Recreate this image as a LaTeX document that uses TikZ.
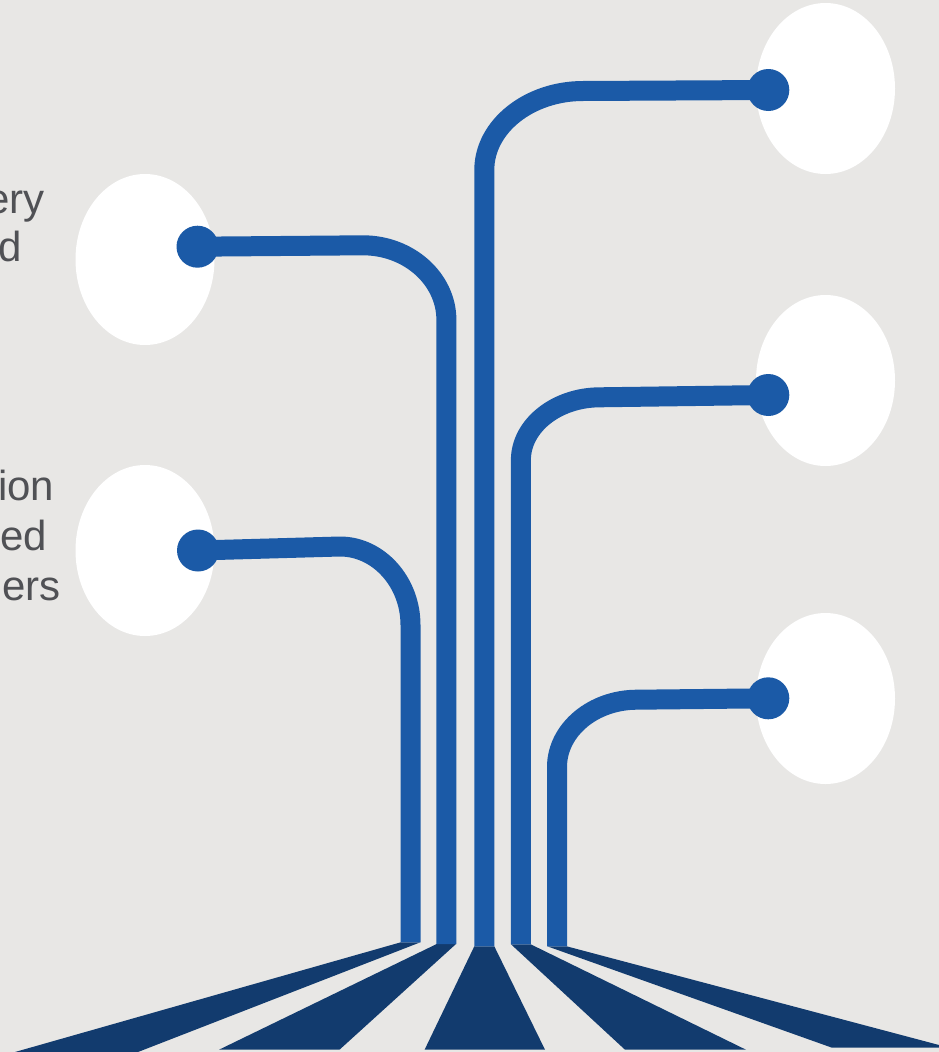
\documentclass[tikz,border=0pt]{standalone}
\usepackage{fontspec}
\setmainfont{Liberation Sans}
\usetikzlibrary{shapes.geometric}
\definecolor{bgc}{HTML}{E8E7E5}
\definecolor{lineblue}{HTML}{1B5AA7}
\definecolor{navy}{HTML}{123B6E}
\definecolor{txt}{HTML}{505155}
\pgfdeclarelayer{bg}\pgfdeclarelayer{fg}\pgfsetlayers{bg,main,fg}
\tikzset{
 bubble/.style={ellipse, fill=white, draw=none, minimum width=139pt, minimum height=171pt, inner sep=0pt},
 bluedot/.style={circle, fill=lineblue, draw=none, minimum size=42pt, inner sep=0pt},
 wire/.style={draw=lineblue, line width=20pt, line cap=butt, line join=round},
 ray/.style={fill=navy, draw=none},
 fragtext/.style={text=txt, font=\fontsize{42}{50}\selectfont, anchor=base east, inner sep=0pt}
}
\begin{document}
\begin{tikzpicture}[x=1pt,y=-1pt]
\useasboundingbox (0,0) rectangle (939,1052);
\begin{pgfonlayer}{bg}
\fill[bgc] (0,0) rectangle (939,1052);
\node[bubble] (e1) at (145,259.5) {};
\node[bubble] (e2) at (145,550.5) {};
\node[bubble] (e3) at (825.5,88.5) {};
\node[bubble] (e4) at (825.5,380.5) {};
\node[bubble] (e5) at (825.5,698.5) {};
\end{pgfonlayer}
\begin{pgfonlayer}{fg}
\node[bluedot] (d1) at (198,550.5) {};
\node[bluedot] (d2) at (197.5,246.7) {};
\node[bluedot] (d3) at (768.3,90) {};
\node[bluedot] (d4) at (768.3,395) {};
\node[bluedot] (d5) at (768.3,698.3) {};
\end{pgfonlayer}
% text fragments
\node[fragtext] (t1) at (45,213) {ery};
\node[fragtext] (t2) at (22.5,261.7) {d};
\node[fragtext] (t3) at (54.5,500) {ion};
\node[fragtext] (t4) at (47,550) {ed};
\node[fragtext] (t5) at (61,600) {lers};
% fan rays
\fill[ray] (400.7,942.3) -- (420.3,942.3) -- (138,1052) -- (15,1052) -- cycle;
\fill[ray] (436.7,944) -- (456,944) -- (339.5,1049.7) -- (219,1049.7) -- cycle;
\fill[ray] (474.3,946.3) -- (494.3,946.3) -- (545,1049.7) -- (424.6,1049.7) -- cycle;
\fill[ray] (511,944.3) -- (530.7,944.3) -- (746,1049.7) -- (625,1049.7) -- cycle;
\fill[ray] (547.3,946.3) -- (566.7,946.3) -- (939,1045) -- (939,1047.7) -- (832,1047.7) -- cycle;
% feet of the wires
\coordinate (f1) at (410.5,942.3);
\coordinate (f2) at (446.4,944);
\coordinate (f3) at (484.3,946.3);
\coordinate (f4) at (520.9,944.3);
\coordinate (f5) at (557,946.3);
% wires
\draw[wire] (d1.center) -- (340,546.5) .. controls (378.5,546.5) and (410.5,582) .. (410.5,625) -- (f1);
\draw[wire] (d2.center) -- (363,245.3) .. controls (409,245.3) and (446.4,279) .. (446.4,320) -- (f2);
\draw[wire] (f3) -- (484.3,170) .. controls (484.3,126.5) and (529,91) .. (583,91) -- (d3.center);
\draw[wire] (f4) -- (520.9,460) .. controls (520.9,425.5) and (556.7,397.3) .. (600,397.3) -- (d4.center);
\draw[wire] (f5) -- (557,767) .. controls (557,730) and (593,699.7) .. (637,699.7) -- (d5.center);
\end{tikzpicture}
\end{document}
